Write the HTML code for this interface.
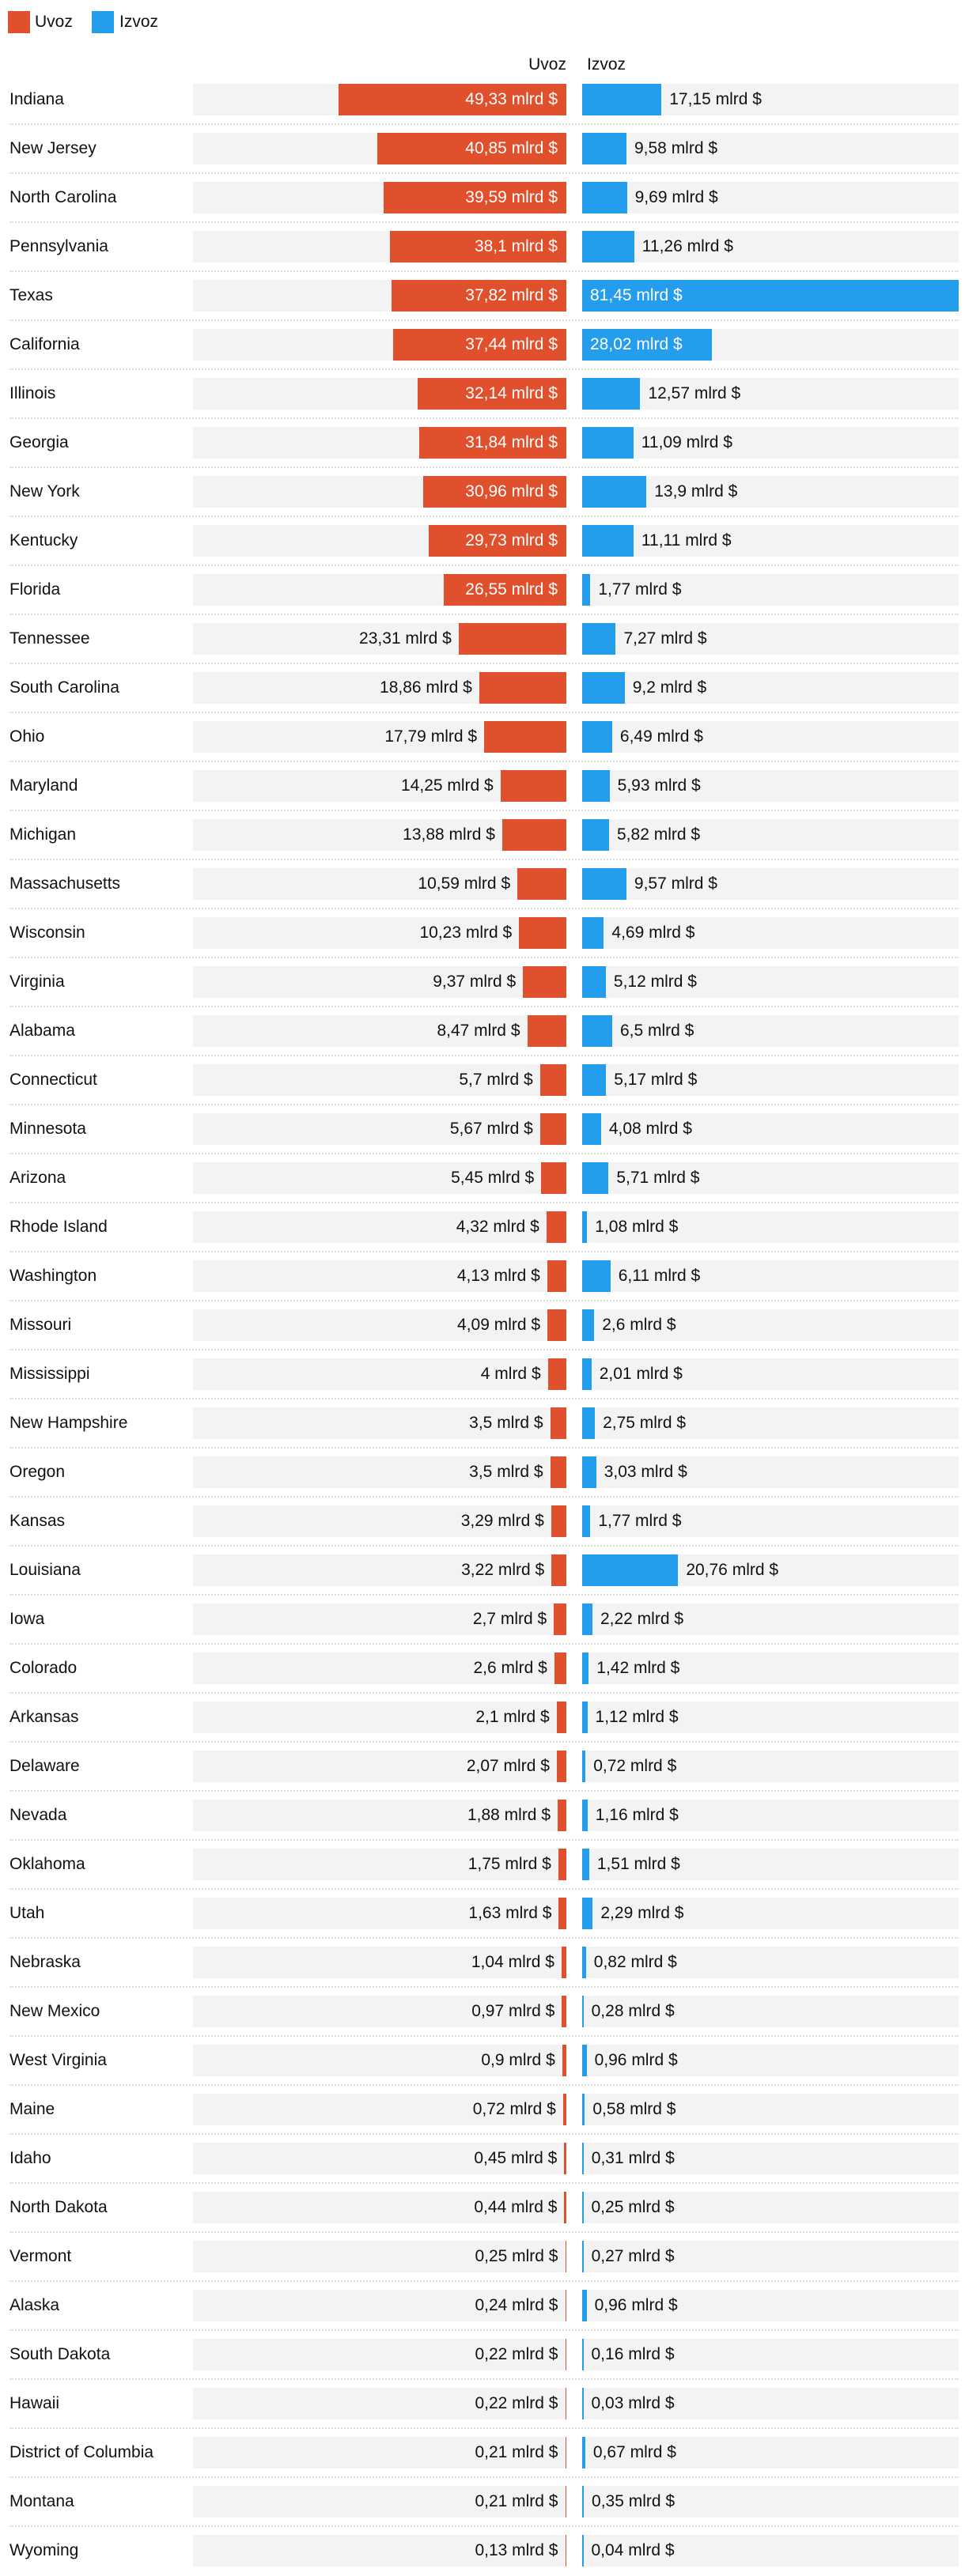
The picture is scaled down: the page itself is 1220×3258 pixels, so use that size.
<!DOCTYPE html>
<html><head><meta charset="utf-8">
<style>
html,body{margin:0;padding:0;background:#fff;}
body{width:1220px;height:3258px;position:relative;overflow:hidden;font-family:"Liberation Sans",sans-serif;color:#111;}
.abs{position:absolute;}
.sw{position:absolute;width:28px;height:28px;top:14px;}
.lt{position:absolute;top:12px;font-size:21px;line-height:32px;}
.lab{position:absolute;left:12px;font-size:21px;line-height:40px;white-space:nowrap;}
.bg{position:absolute;height:40px;background:#f3f3f3;}
.bar{position:absolute;height:40px;}
.val{position:absolute;font-size:21px;line-height:40px;white-space:nowrap;}
.sep{position:absolute;left:12px;width:1200px;height:0;border-top:2px dotted #ddd;}
</style></head>
<body>
<div class="sw" style="left:10px;background:#e0502d"></div>
<div class="lt" style="left:44px">Uvoz</div>
<div class="sw" style="left:116px;background:#259ded"></div>
<div class="lt" style="left:151px">Izvoz</div>
<div class="abs" style="right:504px;top:66px;font-size:21px;line-height:32px">Uvoz</div>
<div class="abs" style="left:742px;top:66px;font-size:21px;line-height:32px">Izvoz</div>
<div id="rows"></div>
<script>
const states = ["Indiana","New Jersey","North Carolina","Pennsylvania","Texas","California","Illinois","Georgia","New York","Kentucky","Florida","Tennessee","South Carolina","Ohio","Maryland","Michigan","Massachusetts","Wisconsin","Virginia","Alabama","Connecticut","Minnesota","Arizona","Rhode Island","Washington","Missouri","Mississippi","New Hampshire","Oregon","Kansas","Louisiana","Iowa","Colorado","Arkansas","Delaware","Nevada","Oklahoma","Utah","Nebraska","New Mexico","West Virginia","Maine","Idaho","North Dakota","Vermont","Alaska","South Dakota","Hawaii","District of Columbia","Montana","Wyoming"];
const uvoz = [49.33,40.85,39.59,38.1,37.82,37.44,32.14,31.84,30.96,29.73,26.55,23.31,18.86,17.79,14.25,13.88,10.59,10.23,9.37,8.47,5.7,5.67,5.45,4.32,4.13,4.09,4,3.5,3.5,3.29,3.22,2.7,2.6,2.1,2.07,1.88,1.75,1.63,1.04,0.97,0.9,0.72,0.45,0.44,0.25,0.24,0.22,0.22,0.21,0.21,0.13];
const izvoz = [17.15,9.58,9.69,11.26,81.45,28.02,12.57,11.09,13.9,11.11,1.77,7.27,9.2,6.49,5.93,5.82,9.57,4.69,5.12,6.5,5.17,4.08,5.71,1.08,6.11,2.6,2.01,2.75,3.03,1.77,20.76,2.22,1.42,1.12,0.72,1.16,1.51,2.29,0.82,0.28,0.96,0.58,0.31,0.25,0.27,0.96,0.16,0.03,0.67,0.35,0.04];
const maxVal = 81.45;
const UV_RIGHT = 716, IZ_LEFT = 736, BW = 476, TOP0 = 106, PITCH = 62;
function x(v){ return v / maxVal * BW; }
function fmt(v){ return String(v).replace('.', ',') + ' mlrd $'; }
const root = document.getElementById('rows');
function mk(cls, style){ const d=document.createElement('div'); d.className=cls; Object.assign(d.style, style); root.appendChild(d); return d; }
states.forEach((s,i)=>{
  const top = TOP0 + i*PITCH;
  const lab = mk('lab',{top:top+'px'}); lab.textContent = s;
  
  
  const bg1 = mk('bg',{top:top+'px',left:'244px',width:(UV_RIGHT-244)+'px'});
  
  
  const bg2 = mk('bg',{top:top+'px',left:IZ_LEFT+'px',width:BW+'px'});
  
  
  const wu = Math.max(x(uvoz[i]),1.5);
  const bu = mk('bar',{top:top+'px',left:(UV_RIGHT-wu)+'px',width:wu+'px',background:'#e0502d'});
  
  
  const vu = mk('val',{top:top+'px'});
  vu.textContent = fmt(uvoz[i]);
  
  
  if (uvoz[i] >= 25) { vu.style.right=(1220-UV_RIGHT+11)+'px'; vu.style.color='#fff'; }
  else { vu.style.right=(1220-UV_RIGHT+wu+9)+'px'; }
  const wi = Math.max(x(izvoz[i]),1.5);
  const bi = mk('bar',{top:top+'px',left:IZ_LEFT+'px',width:wi+'px',background:'#259ded'});
  
  
  const vi = mk('val',{top:top+'px'});
  vi.textContent = fmt(izvoz[i]);
  
  
  if (izvoz[i] >= 25) { vi.style.left=(IZ_LEFT+10)+'px'; vi.style.color='#fff'; }
  else { vi.style.left=(IZ_LEFT+wi+10)+'px'; }
  if (i < states.length-1) {
    const sp = mk('sep',{top:(top+50)+'px'});
    
    
  }
});
</script>
</body></html>
